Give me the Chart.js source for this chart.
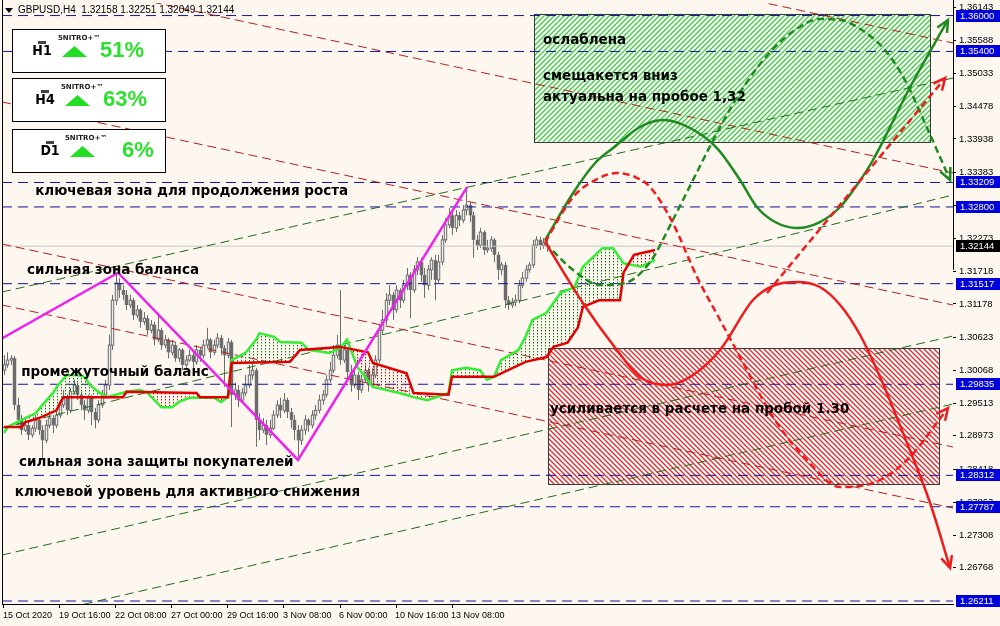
<!DOCTYPE html>
<html>
<head>
<meta charset="utf-8">
<script src="https://cdn.jsdelivr.net/npm/chart.js@4.4.1/dist/chart.umd.min.js"></script>
<style>
  html, body { margin: 0; padding: 0; background: #fdf7f0; }
  #c { display: block; }
</style>
</head>
<body>
<canvas id="c" width="1000" height="626"></canvas>
<script>
// ---- axis ticks ----
const dateTickBars = [0, 16, 32, 48, 64, 80, 96, 112, 128];
const dateLabels = ['15 Oct 2020', '19 Oct 16:00', '22 Oct 08:00', '27 Oct 00:00', '29 Oct 16:00',
  '3 Nov 08:00', '6 Nov 00:00', '10 Nov 16:00', '13 Nov 08:00'];
const priceTicks = [1.36143, 1.35588, 1.35033, 1.34478, 1.33938, 1.33383, 1.32828, 1.32273, 1.31718,
  1.31178, 1.30623, 1.30068, 1.29513, 1.28973, 1.28418, 1.27863, 1.27308, 1.26768];
const levelLines = [1.36000, 1.35400, 1.33209, 1.32800, 1.31517, 1.29835, 1.28312, 1.27787, 1.26211];
const lastPrice = 1.32144;

// ---- GBPUSD H4 candles (bar 0 = 15 Oct 2020 00:00) ----
const opens = [1.3007,1.3016,1.3024,1.3027,1.2949,1.2924,1.2907,1.2915,1.2899,1.2910,
  1.2924,1.2907,1.2890,1.2915,1.2927,1.2915,1.2932,1.2949,1.2961,1.2940,
  1.2971,1.2982,1.2966,1.2949,1.2940,1.2961,1.2937,1.2924,1.2949,1.2966,
  1.2982,1.3049,1.3124,1.3153,1.3141,1.3133,1.3116,1.3124,1.3099,1.3108,
  1.3088,1.3094,1.3074,1.3083,1.3058,1.3074,1.3049,1.3058,1.3037,1.3049,
  1.3027,1.3041,1.3016,1.3024,1.3032,1.3021,1.3041,1.3032,1.3049,1.3058,
  1.3037,1.3049,1.3061,1.3044,1.3032,1.3054,1.2966,1.2974,1.2957,1.2969,
  1.2982,1.2999,1.3007,1.2924,1.2907,1.2915,1.2899,1.2910,1.2932,1.2949,
  1.2940,1.2957,1.2937,1.2924,1.2907,1.2890,1.2907,1.2924,1.2915,1.2932,
  1.2940,1.2957,1.2966,1.2991,1.3007,1.3032,1.3049,1.3024,1.3041,1.3004,
  1.2982,1.2999,1.2974,1.2991,1.3007,1.2982,1.2999,1.3024,1.3074,1.3091,
  1.3124,1.3133,1.3108,1.3141,1.3124,1.3149,1.3166,1.3141,1.3175,1.3188,
  1.3166,1.3149,1.3175,1.3191,1.3158,1.3188,1.3225,1.3250,1.3266,1.3245,
  1.3266,1.3258,1.3275,1.3283,1.3266,1.3225,1.3216,1.3238,1.3208,1.3211,
  1.3225,1.3200,1.3175,1.3183,1.3124,1.3116,1.3121,1.3124,1.3149,1.3161,
  1.3175,1.3183,1.3216,1.3225,1.3216,1.32158];
const highs = [1.3032,1.3037,1.3032,1.3031,1.2961,1.2932,1.2927,1.2920,1.2915,1.2932,
  1.2927,1.2915,1.2924,1.2935,1.2932,1.2940,1.2957,1.2974,1.2966,1.2977,
  1.2991,1.2986,1.2971,1.2957,1.2966,1.2966,1.2944,1.2957,1.2974,1.2991,
  1.3066,1.3133,1.3171,1.3161,1.3149,1.3141,1.3133,1.3128,1.3116,1.3111,
  1.3104,1.3099,1.3091,1.3088,1.3103,1.3078,1.3066,1.3061,1.3058,1.3054,
  1.3044,1.3044,1.3032,1.3041,1.3037,1.3049,1.3044,1.3058,1.3078,1.3061,
  1.3058,1.3069,1.3066,1.3049,1.3061,1.3058,1.2986,1.2982,1.2977,1.2999,
  1.3016,1.3021,1.3011,1.2935,1.2927,1.2924,1.2924,1.2940,1.2957,1.2961,
  1.2969,1.2961,1.2944,1.2932,1.2915,1.2915,1.2932,1.2927,1.2940,1.2949,
  1.2966,1.2974,1.2999,1.3021,1.3049,1.3066,1.3141,1.3049,1.3044,1.3016,
  1.3011,1.3004,1.2999,1.3016,1.3011,1.3011,1.3032,1.3083,1.3108,1.3136,
  1.3149,1.3138,1.3149,1.3144,1.3158,1.3178,1.3171,1.3183,1.3196,1.3195,
  1.3178,1.3183,1.3196,1.3200,1.3200,1.3233,1.3261,1.3278,1.3275,1.3275,
  1.3272,1.3283,1.3312,1.3288,1.3272,1.3233,1.3245,1.3241,1.3225,1.3231,
  1.3228,1.3205,1.3188,1.3188,1.3131,1.3128,1.3133,1.3158,1.3171,1.3183,
  1.3188,1.3225,1.3231,1.3230,1.3228,1.32251];
const lows = [1.2999,1.3011,1.3016,1.2940,1.2915,1.2899,1.2904,1.2890,1.2894,1.2904,
  1.2899,1.2857,1.2885,1.2910,1.2902,1.2910,1.2927,1.2944,1.2932,1.2935,
  1.2966,1.2957,1.2940,1.2924,1.2935,1.2915,1.2910,1.2919,1.2944,1.2961,
  1.2974,1.3041,1.3116,1.3128,1.3124,1.3108,1.3111,1.3091,1.3094,1.3078,
  1.3083,1.3066,1.3069,1.3049,1.3054,1.3041,1.3044,1.3027,1.3032,1.3021,
  1.3021,1.3007,1.3011,1.3021,1.3007,1.3016,1.3021,1.3027,1.3044,1.3027,
  1.3032,1.3044,1.3032,1.2979,1.3027,1.2912,1.2957,1.2945,1.2952,1.2964,
  1.2977,1.2991,1.2879,1.2890,1.2902,1.2882,1.2894,1.2907,1.2927,1.2927,
  1.2935,1.2927,1.2910,1.2890,1.2860,1.2882,1.2899,1.2904,1.2910,1.2924,
  1.2935,1.2949,1.2961,1.2986,1.3002,1.3027,1.3016,1.3019,1.2994,1.2971,
  1.2977,1.2957,1.2969,1.2986,1.2971,1.2977,1.2994,1.3019,1.3066,1.3083,
  1.3116,1.3091,1.3103,1.3111,1.3119,1.3141,1.3094,1.3136,1.3166,1.3155,
  1.3128,1.3141,1.3158,1.3124,1.3153,1.3183,1.3220,1.3245,1.3233,1.3238,
  1.3248,1.3253,1.3266,1.3255,1.3195,1.3208,1.3211,1.3200,1.3203,1.3205,
  1.3188,1.3158,1.3166,1.3111,1.3108,1.3111,1.3114,1.3119,1.3144,1.3155,
  1.3170,1.3178,1.3211,1.3208,1.3210,1.32049];
const closes = [1.3016,1.3024,1.3027,1.2949,1.2924,1.2907,1.2915,1.2899,1.2910,1.2924,
  1.2907,1.2890,1.2915,1.2927,1.2915,1.2932,1.2949,1.2961,1.2940,1.2971,
  1.2982,1.2966,1.2949,1.2940,1.2961,1.2937,1.2924,1.2949,1.2966,1.2982,
  1.3049,1.3124,1.3153,1.3141,1.3133,1.3116,1.3124,1.3099,1.3108,1.3088,
  1.3094,1.3074,1.3083,1.3058,1.3074,1.3049,1.3058,1.3037,1.3049,1.3027,
  1.3041,1.3016,1.3024,1.3032,1.3021,1.3041,1.3032,1.3049,1.3058,1.3037,
  1.3049,1.3061,1.3044,1.3032,1.3054,1.2966,1.2974,1.2957,1.2969,1.2982,
  1.2999,1.3007,1.2924,1.2907,1.2915,1.2899,1.2910,1.2932,1.2949,1.2940,
  1.2957,1.2937,1.2924,1.2907,1.2890,1.2907,1.2924,1.2915,1.2932,1.2940,
  1.2957,1.2966,1.2991,1.3007,1.3032,1.3049,1.3024,1.3041,1.3004,1.2982,
  1.2999,1.2974,1.2991,1.3007,1.2982,1.2999,1.3024,1.3074,1.3091,1.3124,
  1.3133,1.3108,1.3141,1.3124,1.3149,1.3166,1.3141,1.3175,1.3188,1.3166,
  1.3149,1.3175,1.3191,1.3158,1.3188,1.3225,1.3250,1.3266,1.3245,1.3266,
  1.3258,1.3275,1.3283,1.3266,1.3225,1.3216,1.3238,1.3208,1.3211,1.3225,
  1.3200,1.3175,1.3183,1.3124,1.3116,1.3121,1.3124,1.3149,1.3161,1.3175,
  1.3183,1.3216,1.3225,1.3216,1.3220,1.32144];

// ---- ichimoku cloud borders (shifted forward) ----
const spanBBars = [0,5,6,10,15,16,17,34,35,55,56,64,65,81.7,84.6,96,104,105.4,115,117,127,128,140,149,155,157,161,164,165.4,170,176,177,180,186];
const spanBValues = [1.2912,1.2912,1.2920,1.2927,1.2940,1.2952,1.2962,1.2962,1.2971,1.2969,1.2962,1.2962,1.3019,1.3021,1.3041,
  1.3046,1.3037,1.3019,1.3002,1.2969,1.2966,1.2996,1.2996,1.3021,1.3029,1.3046,1.3053,1.3079,1.3113,1.3124,1.3124,1.3170,1.3200,1.3208];
const spanABars = [0,1,5,9,11,14,15.4,18,21,23,24.6,27.4,29.4,35,39,41,43,45,48,50,53,60,62,64,65,69,72,73,77,79,85,87,93,96,98,101,
  105.4,113,117,121,127,128,132,136,138,140,142,147,149,151,155,159,163,165.4,171,174,177,182,186];
const spanAValues = [1.2902,1.2912,1.2924,1.2935,1.2949,1.2969,1.2982,1.2999,1.2999,1.2996,1.2982,1.2969,1.2962,1.2971,1.2974,1.2969,
  1.2957,1.2945,1.2945,1.2954,1.2961,1.2961,1.2954,1.2962,1.3024,1.3036,1.3058,1.3069,1.3063,1.3054,1.3053,1.3041,1.3036,1.3044,1.3058,
  1.3012,1.2979,1.2969,1.2962,1.2957,1.2969,1.3007,1.3011,1.3007,1.2991,1.2996,1.3024,1.3041,1.3063,1.3091,1.3103,1.3136,1.3146,1.3180,
  1.3211,1.3211,1.3186,1.3180,1.3191];

// ---- channel lines (price at left edge, price at right edge) ----
const redChannelLeft = [1.38935, 1.36762, 1.34555, 1.32180, 1.31160];
const redChannelRight = [1.35541, 1.33367, 1.31160, 1.28786, 1.27766];
const greenChannelLeft = [1.31378, 1.29104, 1.26980, 1.25843];
const greenChannelRight = [1.34956, 1.33000, 1.30642, 1.29505];

// ---- wave zigzag ----
const zigzagBars = [-0.6, 32.6, 84, 132.3];
const zigzagPrices = [1.3060, 1.3170, 1.2857, 1.3313];

// ---- forecast paths ----
const greenSolidBars = [154.6,162.6,168.9,174.0,181.7,188.3,196.0,203.7,210.3,215.1,220.3,226.6,233.1,238.9,243.7,248.3,258.9,269.7];
const greenSolidPrices = [1.32247,1.33033,1.33535,1.33785,1.34137,1.34254,1.34120,1.33785,1.33250,1.32799,1.32548,1.32448,1.32548,1.32799,1.33167,1.33585,1.34805,1.35926];
const greenDashBars = [154.6,162.6,170.3,177.4,184.6,191.1,198.0,204.6,211.7,218.9,226.0,233.1,238.9,245.1,251.7,257.4,264.0,270.3];
const greenDashPrices = [1.32197,1.31746,1.31495,1.31528,1.31879,1.32582,1.33384,1.34137,1.34839,1.35391,1.35758,1.35942,1.35926,1.35758,1.35424,1.34922,1.34086,1.33250];
const redSolidBars = [154.6,165.4,175.1,181.7,189.4,196.0,204.6,214.0,220.3,226.6,233.1,238.9,244.6,250.3,258.0,264.6,270.3];
const redSolidPrices = [1.32214,1.31194,1.30408,1.29957,1.29823,1.29957,1.30408,1.31244,1.31495,1.31545,1.31461,1.31160,1.30659,1.29957,1.28853,1.27850,1.26763];
const redDashBars = [154.6,162.6,168.9,175.1,180.3,184.6,191.1,198.0,204.6,210.3,219.7,229.4,238.9,248.3,258.0,269.7];
const redDashPrices = [1.32214,1.32966,1.33250,1.33367,1.33301,1.33133,1.32531,1.31629,1.30910,1.30291,1.29288,1.28569,1.28117,1.28184,1.28569,1.29438];
const redRayBars = [218.0, 268.9];
const redRayPrices = [1.31361, 1.34956];

// ---- zones ----
const greenZoneBars = [151.4, 264.6];
const greenZonePrices = [1.3603, 1.3389];
const redZoneBars = [155.4, 267.1];
const redZonePrices = [1.3044, 1.2817];

// ---- signal panel ----
const panelFrames = ['H1', 'H4', 'D1'];
const panelPercents = [51, 63, 6];

const notes = [
  { text: 'ослаблена', bar: 154.0, price: 1.35591 },
  { text: 'смещакется вниз', bar: 154.0, price: 1.34989 },
  { text: 'актуальна на пробое 1,32', bar: 154.0, price: 1.34638 },
  { text: 'ключевая зона для продолжения роста', bar: 8.9, price: 1.33066 },
  { text: 'сильная зона баланса', bar: 6.6, price: 1.31729 },
  { text: 'промежуточный баланс', bar: 4.9, price: 1.30024 },
  { text: 'сильная зона защиты покупателей', bar: 4.3, price: 1.28535 },
  { text: 'ключевой уровень для активного снижения', bar: 3.1, price: 1.28017 },
  { text: 'усиливается в расчете на пробой 1.30', bar: 156.0, price: 1.29405 }
];

const xMin = -0.57, xMax = 271.14;
const yMin = 1.26161, yMax = 1.36210;
const BG = '#fdf7f0';
const axisFont = '"Liberation Sans"';

function pts(bars, vals) {
  return bars.map((b, i) => ({ x: b, y: vals[i] }));
}

function stripePattern(color, dir) {
  const c = document.createElement('canvas');
  c.width = 5; c.height = 5;
  const g = c.getContext('2d');
  g.strokeStyle = color;
  g.lineWidth = 1.35;
  g.beginPath();
  if (dir > 0) {
    g.moveTo(-1, 6); g.lineTo(6, -1);
    g.moveTo(-1, 1); g.lineTo(1, -1);
    g.moveTo(4, 6); g.lineTo(6, 4);
  } else {
    g.moveTo(-1, -1); g.lineTo(6, 6);
    g.moveTo(4, -1); g.lineTo(6, 1);
    g.moveTo(-1, 4); g.lineTo(1, 6);
  }
  g.stroke();
  return g.createPattern(c, 'repeat');
}

function dotPattern(color) {
  const c = document.createElement('canvas');
  c.width = 4; c.height = 3;
  const g = c.getContext('2d');
  g.fillStyle = color;
  g.fillRect(1, 0, 1, 1.4);
  return g.createPattern(c, 'repeat');
}

const datasets = [];
levelLines.forEach(v => {
  datasets.push({ data: [{ x: xMin, y: v }, { x: xMax, y: v }], borderColor: '#14149c', borderWidth: 1, borderDash: [10, 6], order: 60 });
});
datasets.push({ data: [{ x: xMin, y: lastPrice }, { x: xMax, y: lastPrice }], borderColor: '#c8c8c8', borderWidth: 1, order: 61 });
redChannelLeft.forEach((v, i) => {
  datasets.push({ data: [{ x: xMin, y: v }, { x: xMax, y: redChannelRight[i] }], borderColor: '#b41e1e', borderWidth: 1, borderDash: [9, 5], order: 50 });
});
greenChannelLeft.forEach((v, i) => {
  datasets.push({ data: [{ x: xMin, y: v }, { x: xMax, y: greenChannelRight[i] }], borderColor: '#1b6e1b', borderWidth: 1, borderDash: [9, 5], order: 50 });
});

const spanBIndex = datasets.length;
datasets.push({ data: pts(spanBBars, spanBValues), borderColor: '#e00000', borderWidth: 2.5, order: 30 });
datasets.push({
  data: pts(spanABars, spanAValues), borderColor: '#33ee33', borderWidth: 2.5, order: 31,
  fill: { target: spanBIndex, above: dotPattern('#0a7a0a'), below: dotPattern('#d00000') }
});

datasets.push({ data: pts(zigzagBars, zigzagPrices), borderColor: '#ee22ee', borderWidth: 2.5, order: 20 });

datasets.push({ data: pts(greenSolidBars, greenSolidPrices), borderColor: '#1f8a1f', borderWidth: 2.5, cubicInterpolationMode: 'monotone', arrow: true, order: 10 });
datasets.push({ data: pts(greenDashBars, greenDashPrices), borderColor: '#1f8a1f', borderWidth: 2.5, borderDash: [7, 4], cubicInterpolationMode: 'monotone', arrow: true, order: 10 });
datasets.push({ data: pts(redSolidBars, redSolidPrices), borderColor: '#ee1c1c', borderWidth: 2.5, cubicInterpolationMode: 'monotone', arrow: true, order: 9 });
datasets.push({ data: pts(redDashBars, redDashPrices), borderColor: '#ee1c1c', borderWidth: 2.5, borderDash: [7, 4], cubicInterpolationMode: 'monotone', arrow: true, order: 9 });
datasets.push({ data: pts(redRayBars, redRayPrices), borderColor: '#ee1c1c', borderWidth: 2.5, borderDash: [7, 4], arrow: true, order: 9 });

function drawZone(ctx, xs, ys, bars, prices, pattern) {
  const x1 = xs.getPixelForValue(bars[0]), x2 = xs.getPixelForValue(bars[1]);
  const y1 = ys.getPixelForValue(prices[0]), y2 = ys.getPixelForValue(prices[1]);
  ctx.fillStyle = '#ffffff';
  ctx.fillRect(x1, y1, x2 - x1, y2 - y1);
  ctx.fillStyle = pattern;
  ctx.fillRect(x1, y1, x2 - x1, y2 - y1);
  ctx.strokeStyle = '#3a3a3a';
  ctx.lineWidth = 1;
  ctx.strokeRect(Math.round(x1) + 0.5, Math.round(y1) + 0.5, Math.round(x2 - x1), Math.round(y2 - y1));
}

const mtPlugin = {
  id: 'mt',
  beforeDraw(chart) {
    const ctx = chart.ctx;
    ctx.save();
    ctx.fillStyle = BG;
    ctx.fillRect(0, 0, chart.width, chart.height);
    ctx.restore();
  },
  beforeDatasetsDraw(chart) {
    const { ctx, chartArea: a } = chart;
    const xs = chart.scales.x, ys = chart.scales.y;
    ctx.save();
    ctx.beginPath();
    ctx.rect(a.left, a.top, a.right - a.left, a.bottom - a.top);
    ctx.clip();
    drawZone(ctx, xs, ys, greenZoneBars, greenZonePrices, stripePattern('#3fcb3f', 1));
    drawZone(ctx, xs, ys, redZoneBars, redZonePrices, stripePattern('#e02828', -1));
    // candles
    const step = xs.getPixelForValue(1) - xs.getPixelForValue(0);
    const bw = Math.max(1.5, step * 0.7);
    ctx.lineWidth = 1;
    for (let i = 0; i < closes.length; i++) {
      const x = Math.round(xs.getPixelForValue(i)) + 0.5;
      const yo = ys.getPixelForValue(opens[i]), yc = ys.getPixelForValue(closes[i]);
      const yh = ys.getPixelForValue(highs[i]), yl = ys.getPixelForValue(lows[i]);
      ctx.strokeStyle = '#6c6c6c';
      ctx.beginPath();
      ctx.moveTo(x, yh); ctx.lineTo(x, yl);
      ctx.stroke();
      const top = Math.min(yo, yc), h = Math.max(1, Math.abs(yo - yc));
      if (closes[i] >= opens[i]) {
        ctx.fillStyle = '#ececec';
        ctx.fillRect(x - bw / 2, top, bw, h);
        ctx.strokeRect(x - bw / 2, top, bw, h);
      } else {
        ctx.fillStyle = '#6c6c6c';
        ctx.fillRect(x - bw / 2 - 0.5, top, bw + 1, h);
      }
    }
    ctx.restore();
  },
  afterDatasetsDraw(chart) {
    const { ctx, chartArea: a } = chart;
    const xs = chart.scales.x, ys = chart.scales.y;
    ctx.save();
    // arrow heads
    chart.data.datasets.forEach((ds, i) => {
      if (!ds.arrow) return;
      const el = chart.getDatasetMeta(i).data;
      const p2 = el[el.length - 1], p1 = el[el.length - 2];
      const ang = Math.atan2(p2.y - p1.y, p2.x - p1.x);
      ctx.strokeStyle = ds.borderColor;
      ctx.lineWidth = 2.5;
      ctx.setLineDash([]);
      ctx.beginPath();
      ctx.moveTo(p2.x + 13 * Math.cos(ang + 2.7), p2.y + 13 * Math.sin(ang + 2.7));
      ctx.lineTo(p2.x, p2.y);
      ctx.lineTo(p2.x + 13 * Math.cos(ang - 2.7), p2.y + 13 * Math.sin(ang - 2.7));
      ctx.stroke();
    });
    // notes
    ctx.fillStyle = '#000';
    ctx.font = 'bold 13.5px "DejaVu Sans"';
    ctx.textBaseline = 'middle';
    ctx.textAlign = 'left';
    notes.forEach(n => {
      ctx.fillText(n.text, xs.getPixelForValue(n.bar), ys.getPixelForValue(n.price));
    });
    // frame: left edge, right edge down to the middle of the price scale
    ctx.strokeStyle = '#000';
    ctx.lineWidth = 1;
    ctx.beginPath();
    ctx.moveTo(a.left + 0.5, 0);
    ctx.lineTo(a.left + 0.5, a.bottom);
    ctx.moveTo(a.right + 0.5, 0);
    ctx.lineTo(a.right + 0.5, ys.getPixelForValue(1.3175));
    ctx.stroke();
    ctx.restore();
  },
  afterDraw(chart) {
    const { ctx, chartArea: a } = chart;
    const ys = chart.scales.y;
    ctx.save();
    // price label boxes
    ctx.font = '9.5px ' + axisFont;
    ctx.textBaseline = 'middle';
    ctx.textAlign = 'left';
    const boxes = levelLines.map(v => ({ v, c: '#0000dd' })).concat([{ v: lastPrice, c: '#000000' }]);
    boxes.forEach(b => {
      const y = Math.round(ys.getPixelForValue(b.v));
      ctx.fillStyle = b.c;
      ctx.fillRect(a.right + 3, y - 6, chart.width - a.right - 3, 12);
      ctx.fillStyle = '#ffffff';
      ctx.fillText(b.v.toFixed(5), a.right + 7, y + 0.5);
    });
    // header
    ctx.fillStyle = '#000';
    ctx.beginPath();
    ctx.moveTo(5, 8); ctx.lineTo(13, 8); ctx.lineTo(9, 13); ctx.closePath();
    ctx.fill();
    ctx.font = '10px ' + axisFont;
    ctx.fillText('GBPUSD,H4  1.32158 1.32251 1.32049 1.32144', 18, 10);
    // signal panel
    const tops = [29, 78, 129];
    const iconX = [42, 45, 50];
    const triX = [62, 65, 70];
    const pctX = [100, 103, 122];
    const tagX = [58, 61, 65];
    panelFrames.forEach((tf, i) => {
      const t = tops[i];
      ctx.fillStyle = '#ffffff';
      ctx.fillRect(12, t, 154, 43);
      ctx.strokeStyle = '#000';
      ctx.lineWidth = 1;
      ctx.strokeRect(12.5, t + 0.5, 153, 43);
      ctx.fillStyle = '#444';
      ctx.fillRect(iconX[i] - 4, t + 12, 8, 3);
      ctx.fillStyle = '#000';
      ctx.font = 'bold 14px "DejaVu Sans Condensed", "DejaVu Sans"';
      ctx.textAlign = 'center';
      ctx.fillText(tf, iconX[i], t + 22);
      ctx.font = 'bold 7px "DejaVu Sans"';
      ctx.textAlign = 'left';
      ctx.fillStyle = '#222';
      ctx.fillText('5NITRO+™', tagX[i], t + 9);
      ctx.fillStyle = '#22dd22';
      ctx.beginPath();
      ctx.moveTo(triX[i], t + 28);
      ctx.lineTo(triX[i] + 25, t + 28);
      ctx.lineTo(triX[i] + 12.5, t + 17);
      ctx.closePath();
      ctx.fill();
      ctx.font = 'bold 22px "Liberation Sans"';
      ctx.fillStyle = '#2ee02e';
      ctx.fillText(panelPercents[i] + '%', pctX[i], t + 22);
    });
    ctx.restore();
  }
};

new Chart(document.getElementById('c'), {
  type: 'line',
  data: { datasets: datasets },
  plugins: [mtPlugin],
  options: {
    responsive: false,
    animation: false,
    devicePixelRatio: 1,
    layout: { padding: { left: 2, top: 3, right: 0, bottom: 0 } },
    plugins: { legend: { display: false }, tooltip: { enabled: false } },
    elements: { point: { radius: 0 }, line: { tension: 0, fill: false, borderCapStyle: 'butt' } },
    scales: {
      x: {
        type: 'linear', min: xMin, max: xMax,
        afterBuildTicks: s => { s.ticks = dateTickBars.map(v => ({ value: v })); },
        afterFit: s => { s.height = 22; s.paddingLeft = 0; s.paddingRight = 0; },
        ticks: {
          autoSkip: false, maxRotation: 0, align: 'start', padding: 2, color: '#000', labelOffset: -1,
          font: { family: axisFont, size: 9 },
          callback: v => dateLabels[dateTickBars.indexOf(v)]
        },
        grid: { drawOnChartArea: false, color: '#000', tickLength: 4 },
        border: { color: '#000' }
      },
      y: {
        position: 'right', min: yMin, max: yMax,
        afterBuildTicks: s => { s.ticks = priceTicks.map(v => ({ value: v })); },
        afterFit: s => { s.width = 47; s.paddingTop = 0; s.paddingBottom = 0; },
        ticks: {
          autoSkip: false, padding: 3, color: '#000',
          font: { family: axisFont, size: 9.5 },
          callback: v => v.toFixed(5)
        },
        grid: { drawOnChartArea: false, color: '#000', tickLength: 3 },
        border: { display: false }
      }
    }
  }
});
</script>
</body>
</html>
